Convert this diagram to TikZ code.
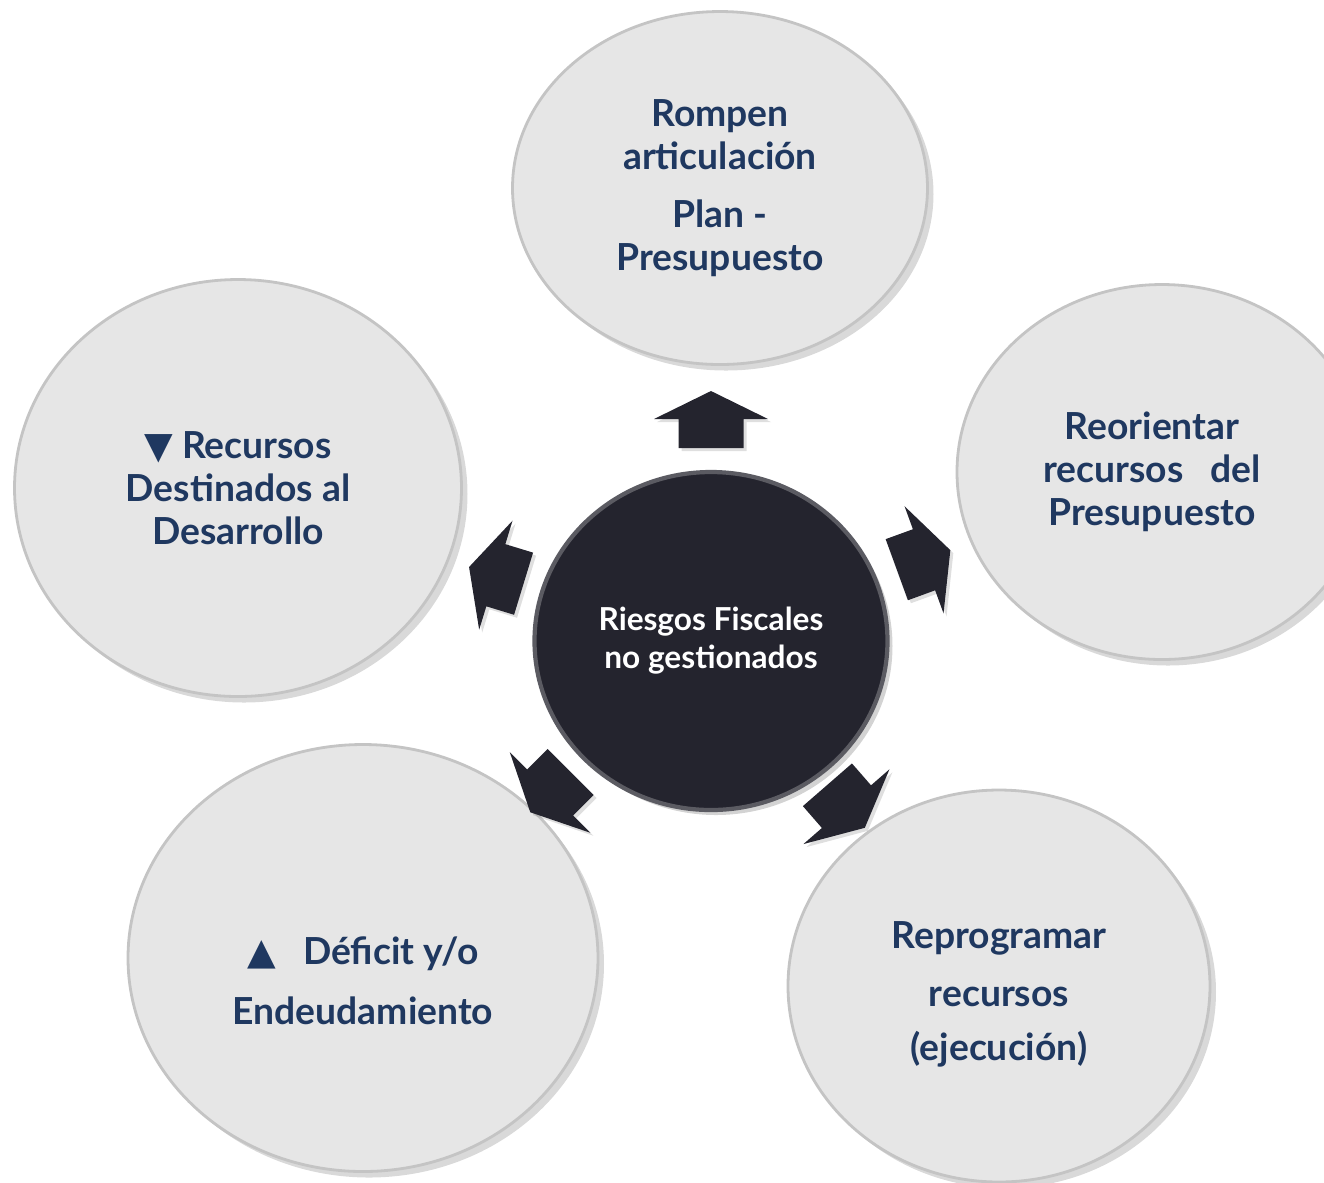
\documentclass[tikz,border=0pt]{standalone}
\usepackage{fontspec}
\setmainfont{Lato}
\newfontfamily\symfont{DejaVu Sans}
\usetikzlibrary{shapes.geometric, shadows, calc}
\definecolor{navy}{RGB}{31,56,96}
\definecolor{coredark}{RGB}{36,36,46}
\definecolor{bubble}{RGB}{230,230,230}
\definecolor{bubblerim}{RGB}{196,196,196}
\tikzset{
	outer/.style={ellipse, fill=bubble, draw=bubblerim, line width=0.8pt, inner sep=0pt,
		drop shadow={opacity=0.3, shadow xshift=0.06cm, shadow yshift=-0.06cm},
		text=navy, align=center, font=\bfseries\fontsize{10.6}{12.3}\selectfont},
	core/.style={ellipse, fill=coredark, draw=coredark!75!white, line width=1.2pt, inner sep=0pt,
		drop shadow={opacity=0.35, shadow xshift=0.05cm, shadow yshift=-0.05cm},
		text=white, align=center, font=\bfseries\fontsize{9}{10.8}\selectfont},
	flecha/.pic={
		\fill[coredark, drop shadow={opacity=0.25, shadow xshift=0.03cm, shadow yshift=-0.03cm}]
			(0,-0.325) -- (0.29,-0.325) -- (0.29,-0.57) -- (0.57,0) -- (0.29,0.57) -- (0.29,0.325) -- (0,0.325) -- cycle;
	},
}
\begin{document}
\begin{tikzpicture}
	\useasboundingbox (0,0) rectangle (13.24,-11.82);
	
	\node[core, minimum width=3.53cm, minimum height=3.38cm] (RIESGOS) at (7.11,-6.41) {Riesgos Fiscales\\no gestionados};
	
	\node[outer, minimum width=4.15cm, minimum height=3.53cm] (ROMPEN) at (7.20,-1.88) {Rompen\\articulación\\[0.15cm] Plan -\\Presupuesto};
	\node[outer, minimum width=4.10cm, minimum height=3.75cm] (REORIENTAR) at (11.62,-4.72) {\hspace*{-0.2cm}Reorientar\\\hspace*{-0.2cm}recursos \ \ del\\\hspace*{-0.2cm}Presupuesto};
	\node[outer, minimum width=4.22cm, minimum height=3.92cm] (REPROGRAMAR) at (9.99,-9.86) {\\ Reprogramar\\[0.15cm] recursos\\[0.1cm] (ejecución)};
	\node[outer, minimum width=4.70cm, minimum height=4.27cm] (DEFICIT) at (3.63,-9.58) {\\[0.3cm]{\symfont ▲}\ \ \ Déficit y/o\\[0.17cm] Endeudamiento};
	\node[outer, minimum width=4.47cm, minimum height=4.17cm] (RECURSOS) at (2.38,-4.88) {{\symfont ▼} Recursos\\Destinados al\\Desarrollo};
	
	% flechas hacia afuera
	\pic[rotate=90] at ($(RIESGOS)+(90:1.93)$) {flecha};
	\pic[rotate=20] at ($(RIESGOS)+(21:1.99)$) {flecha};
	\pic[rotate=163] at ($(RIESGOS)+(163:1.96)$) {flecha};
	\pic[rotate=225] at ($(RIESGOS)+(223:1.92)$) {flecha};
	\pic[rotate=-49] at ($(RIESGOS)+(-51:1.85)$) {flecha};
	
\end{tikzpicture}
\end{document}
